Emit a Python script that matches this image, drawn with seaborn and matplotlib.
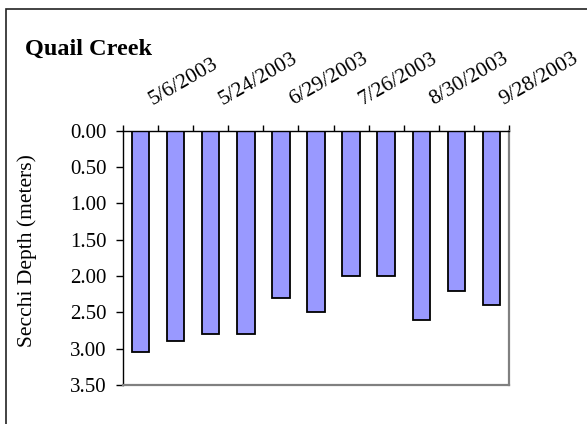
import numpy as np
import pandas as pd
import seaborn as sns
import matplotlib
matplotlib.use("Agg")
import matplotlib.pyplot as plt
from matplotlib.patches import Rectangle
from matplotlib.transforms import ScaledTranslation
from matplotlib.ticker import FormatStrFormatter, FixedLocator

# Secchi depth readings, one per sampling trip
samples = ["1", "2", "3", "4", "5", "6", "7", "8", "9", "10", "11"]
depth_m = [3.05, 2.90, 2.80, 2.80, 2.30, 2.50, 2.00, 2.00, 2.60, 2.20, 2.40]

# Dates printed along the top axis (every other trip)
label_positions = [0, 2, 4, 6, 8, 10]
date_labels = ["5/6/2003", "5/24/2003", "6/29/2003", "7/26/2003", "8/30/2003", "9/28/2003"]

y_ticks = [0.0, 0.5, 1.0, 1.5, 2.0, 2.5, 3.0, 3.5]

title = "Quail Creek"
y_title = "Secchi Depth (meters)"

sns.set_theme(style="white")
plt.rcParams["font.family"] = ["Liberation Serif", "DejaVu Serif"]

df = pd.DataFrame({"sample": samples, "depth": depth_m})

fig = plt.figure(figsize=(5.87, 4.24), dpi=100)
fig.patch.set_facecolor("white")
ax = fig.add_axes([123 / 587, 1 - 385 / 424, (509 - 123) / 587, (385 - 130.7) / 424])

sns.barplot(data=df, x="sample", y="depth", order=samples, color="#9999FF",
            saturation=1, width=0.5, edgecolor="black", linewidth=1.3, ax=ax,
            errorbar=None)

ax.set_xlim(-0.5, len(samples) - 0.5)
ax.set_ylim(3.5, 0.0)

# Top axis: date labels plus small boundary ticks between categories
ax.xaxis.tick_top()
ax.xaxis.set_label_position("top")
ax.set_xticks(label_positions)
ax.set_xticklabels(date_labels)
ax.xaxis.set_minor_locator(FixedLocator(np.arange(-0.5, len(samples), 1.0)))
ax.tick_params(axis="x", which="major", top=True, bottom=False, length=0,
               pad=18.5, labelsize=15.5, labelcolor="black")
ax.tick_params(axis="x", which="minor", top=True, bottom=False, length=4,
               width=1, color="black", direction="out")
for lbl in ax.xaxis.get_majorticklabels():
    lbl.set_rotation(30)
    lbl.set_rotation_mode("anchor")
    lbl.set_ha("left")
    lbl.set_va("baseline")
    lbl.set_transform(lbl.get_transform() + ScaledTranslation(12 / 100, 0, fig.dpi_scale_trans))
ax.set_xlabel("")

# Left axis: depth grows downward
ax.set_yticks(y_ticks)
ax.yaxis.set_major_formatter(FormatStrFormatter("%.2f"))
ax.tick_params(axis="y", which="major", left=True, right=False, length=5,
               width=1, color="black", direction="out", pad=7, labelsize=15,
               labelcolor="black")
ax.set_ylabel(y_title, fontsize=15.5, color="black")
ax.yaxis.set_label_coords(-0.222, 0.527)

ax.grid(False)
for side in ["left", "top"]:
    ax.spines[side].set_color("black")
    ax.spines[side].set_linewidth(1.0)
for side in ["right", "bottom"]:
    ax.spines[side].set_color("#808080")
    ax.spines[side].set_linewidth(1.6)
    ax.spines[side].set_visible(True)

fig.text(25 / 587, 1 - 55 / 424, title, fontsize=17.5, fontweight="bold",
         ha="left", va="baseline", color="black")

# Chart area border
fig.add_artist(Rectangle((6 / 587, -0.1), 1.2, 1.1 - 9.3 / 424,
                         transform=fig.transFigure, fill=False,
                         edgecolor="#222222", linewidth=1.2))

fig.savefig("out.png", dpi=100, facecolor="white")
